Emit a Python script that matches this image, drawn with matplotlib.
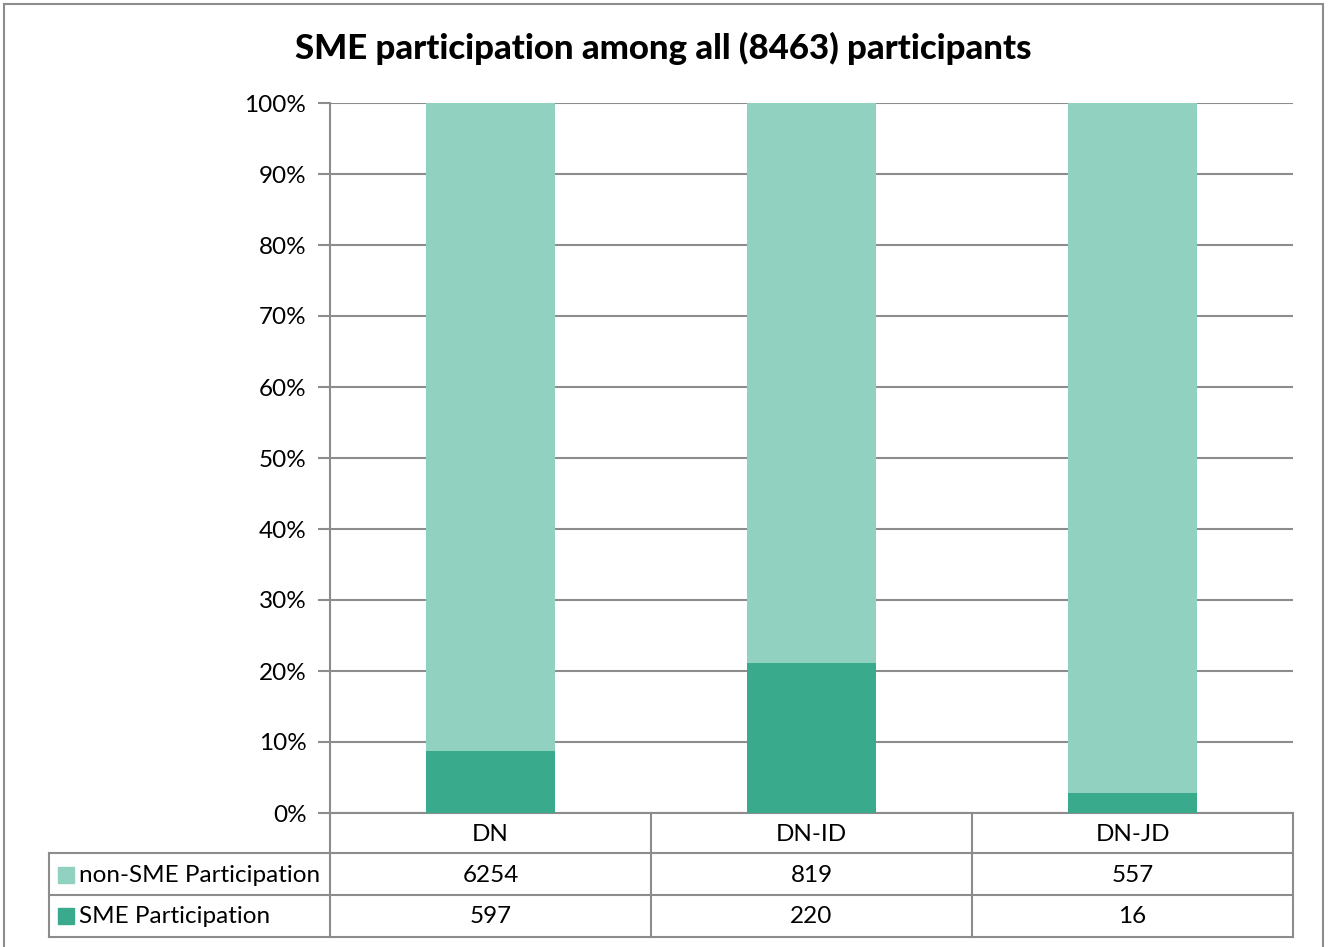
import matplotlib.pyplot as plt
from matplotlib.patches import Rectangle
from matplotlib.lines import Line2D

plt.rcParams['font.family'] = ['Lato', 'DejaVu Sans']

categories = ['DN', 'DN-ID', 'DN-JD']
series_names = ['non-SME Participation', 'SME Participation']
non_sme = [6254, 819, 557]
sme = [597, 220, 16]
yticks = [0, 10, 20, 30, 40, 50, 60, 70, 80, 90, 100]

c_light = '#91D1C0'
c_dark = '#3AAA8D'
c_grid = '#8C8C8C'
fs = 17.5

totals = [a + b for a, b in zip(non_sme, sme)]
sme_pct = [100 * s / t for s, t in zip(sme, totals)]
non_pct = [100 * n / t for n, t in zip(non_sme, totals)]

W, H = 1330, 947
fig = plt.figure(figsize=(W / 100, H / 100), dpi=100)
ax = fig.add_axes([330 / W, 1 - 813 / H, (1293 - 330) / W, (813 - 103) / H])

x = list(range(len(categories)))
ax.bar(x, sme_pct, width=0.4, color=c_dark, zorder=3)
ax.bar(x, non_pct, width=0.4, bottom=sme_pct, color=c_light, zorder=3)

ax.set_xlim(-0.5, len(categories) - 0.5)
ax.set_ylim(0, 100)
ax.set_yticks(yticks)
ax.set_yticklabels([f'{t}%' for t in yticks], fontsize=fs)
ax.tick_params(axis='y', length=9, width=1.5, color=c_grid, pad=8)
ax.set_xticks([])
ax.yaxis.grid(True, color=c_grid, linewidth=1.5, zorder=0)
for s in ['top', 'right']:
    ax.spines[s].set_visible(False)
for s in ['left', 'bottom']:
    ax.spines[s].set_color(c_grid)
    ax.spines[s].set_linewidth(1.5)

fig.text(663 / W, 1 - 48 / H, 'SME participation among all (8463) participants',
         ha='center', va='center', fontsize=25, fontweight='black')

# data table below the plot, drawn in pixel coordinates
def px(xp, yp):
    return xp / W, 1 - yp / H

def hline(y, x0, x1):
    fig.add_artist(Line2D([x0 / W, x1 / W], [1 - y / H, 1 - y / H],
                          color=c_grid, lw=1.5))

def vline(xp, y0, y1):
    fig.add_artist(Line2D([xp / W, xp / W], [1 - y0 / H, 1 - y1 / H],
                          color=c_grid, lw=1.5))

col_edges = [330, 651, 972, 1293]
row_edges = [813, 853, 895, 937]
for y in row_edges[1:]:
    hline(y, 49, 1293)
for xe in col_edges:
    vline(xe, 813, 937)
vline(49, 853, 937)

for i, cat in enumerate(categories):
    xc = (col_edges[i] + col_edges[i + 1]) / 2
    fig.text(*px(xc, 834), cat, ha='center', va='center', fontsize=fs)
    fig.text(*px(xc, 875), str(non_sme[i]), ha='center', va='center', fontsize=fs)
    fig.text(*px(xc, 916), str(sme[i]), ha='center', va='center', fontsize=fs)

for row_y, name, col in [(875, series_names[0], c_light), (916, series_names[1], c_dark)]:
    fig.add_artist(Rectangle(px(58, row_y + 8), 16 / W, 16 / H, color=col,
                             transform=fig.transFigure))
    fig.text(*px(79, row_y), name, ha='left', va='center', fontsize=fs)

# outer chart border
fig.add_artist(Rectangle((4 / W, -0.01), (1323 - 4) / W, 1 - 4 / H + 0.01,
                         fill=False, edgecolor=c_grid, lw=1.5,
                         transform=fig.transFigure))

fig.savefig('out.png', dpi=100)
